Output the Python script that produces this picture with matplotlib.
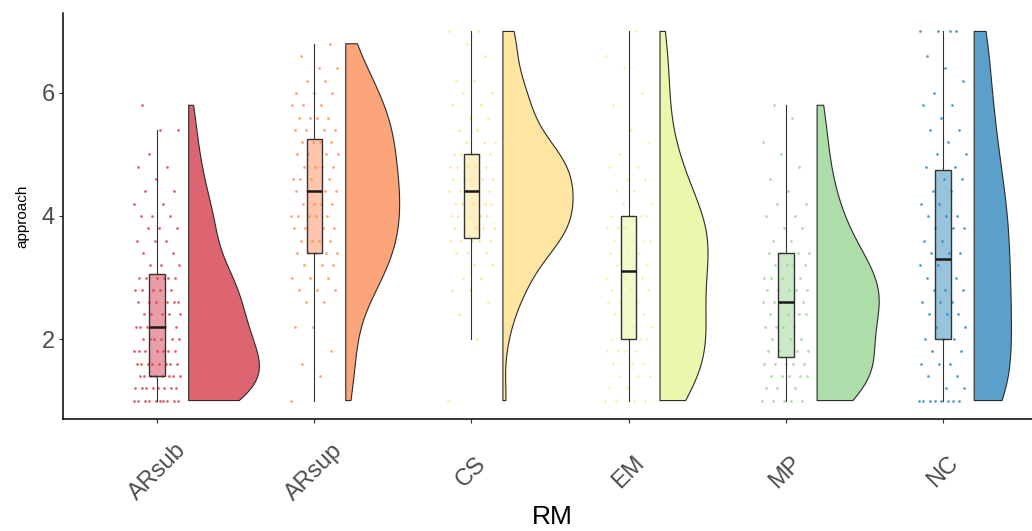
import numpy as np
import matplotlib
matplotlib.use("Agg")
import matplotlib.pyplot as plt

plt.rcParams['font.family'] = ['Liberation Sans', 'DejaVu Sans']

groups = ['ARsub', 'ARsup', 'CS', 'EM', 'MP', 'NC']
colors = ['#D53E4F', '#FC8D59', '#FEE08B', '#E6F598', '#99D594', '#3288BD']

# approach scores (value grid) and how many respondents gave each, per group
arsub_vals = [1.0, 1.2, 1.4, 1.6, 1.8, 2.0, 2.2, 2.4, 2.6, 2.8, 3.0, 3.2, 3.4, 3.6,
              3.8, 4.0, 4.2, 4.4, 4.6, 4.8, 5.0, 5.4, 5.8]
arsub_counts = [10, 8, 8, 8, 7, 6, 6, 5, 6, 5, 6, 3, 2, 3, 3, 3, 2, 2, 1, 2, 1, 2, 1]

arsup_vals = [1.0, 1.4, 1.6, 1.8, 2.2, 2.6, 2.8, 3.0, 3.2, 3.4, 3.6, 3.8, 4.0, 4.2,
              4.4, 4.6, 4.8, 5.0, 5.2, 5.4, 5.6, 5.8, 6.0, 6.2, 6.4, 6.6, 6.8]
arsup_counts = [1, 1, 1, 1, 2, 2, 3, 3, 3, 5, 4, 4, 5, 4, 5, 4, 4, 4, 4, 4, 4, 3, 3, 2, 2, 1, 1]

cs_vals = [1.0, 2.0, 2.4, 2.6, 2.8, 3.0, 3.2, 3.4, 3.6, 3.8, 4.0, 4.2, 4.4, 4.6,
           4.8, 5.0, 5.2, 5.4, 5.6, 5.8, 6.0, 6.2, 6.6, 6.8, 7.0]
cs_counts = [1, 1, 1, 1, 2, 2, 2, 3, 5, 5, 5, 5, 5, 5, 5, 5, 3, 2, 2, 2, 2, 2, 1, 1, 2]

em_vals = [1.0, 1.2, 1.4, 1.6, 1.8, 2.0, 2.2, 2.4, 2.6, 2.8, 3.0, 3.2, 3.4, 3.6,
           3.8, 4.0, 4.2, 4.4, 4.6, 4.8, 5.0, 5.2, 5.4, 5.8, 6.0, 6.4, 6.6, 7.0]
em_counts = [4, 2, 3, 3, 4, 4, 3, 3, 3, 3, 3, 3, 4, 4, 4, 4, 2, 2, 2, 2, 1, 1, 1, 1, 1, 1, 1, 1]

mp_vals = [1.0, 1.2, 1.4, 1.6, 1.8, 2.0, 2.2, 2.4, 2.6, 2.8, 3.0, 3.2, 3.4, 3.6,
           3.8, 4.0, 4.2, 4.4, 4.6, 4.8, 5.0, 5.2, 5.6, 5.8]
mp_counts = [5, 3, 5, 5, 4, 3, 4, 4, 6, 5, 4, 4, 4, 2, 2, 2, 2, 1, 1, 1, 1, 1, 1, 1]

nc_vals = [1.0, 1.2, 1.4, 1.6, 1.8, 2.0, 2.2, 2.4, 2.6, 2.8, 3.0, 3.2, 3.4, 3.6,
           3.8, 4.0, 4.2, 4.4, 4.6, 4.8, 5.0, 5.2, 5.4, 5.6, 5.8, 6.0, 6.2, 6.4, 6.6, 7.0]
nc_counts = [8, 2, 2, 3, 2, 3, 2, 3, 3, 3, 2, 2, 3, 2, 3, 3, 2, 2, 2, 2, 2, 1, 2, 1, 2,
             1, 1, 1, 1, 4]

all_vals = [arsub_vals, arsup_vals, cs_vals, em_vals, mp_vals, nc_vals]
all_counts = [arsub_counts, arsup_counts, cs_counts, em_counts, mp_counts, nc_counts]
data = [np.repeat(v, c) for v, c in zip(all_vals, all_counts)]


def kde_trimmed(y, npts=512):
    # gaussian kde with R's bw.nrd0, evaluated over the data range (trim=TRUE)
    n = len(y)
    sd = np.std(y, ddof=1)
    iqr = np.subtract(*np.percentile(y, [75, 25]))
    bw = 0.9 * min(sd, iqr / 1.34) * n ** -0.2
    grid = np.linspace(y.min(), y.max(), npts)
    dens = np.exp(-0.5 * ((grid[:, None] - y[None, :]) / bw) ** 2).sum(axis=1)
    dens /= n * bw * np.sqrt(2 * np.pi)
    return grid, dens


fig = plt.figure(figsize=(10.32, 5.31), dpi=100)
ax = fig.add_axes([63 / 1032, 112 / 531, 969 / 1032, 406 / 531])

positions = np.arange(1, len(groups) + 1)
kdes = [kde_trimmed(d) for d in data]
gmax = max(d.max() for _, d in kdes)

# flat violins, nudged right of the box
for pos, (grid, dens), col in zip(positions, kdes, colors):
    x0 = pos + 0.2
    ax.fill_betweenx(grid, x0, x0 + 0.45 * dens / gmax, facecolor=col, alpha=0.8,
                     edgecolor='none', zorder=2)
    ax.fill_betweenx(grid, x0, x0 + 0.45 * dens / gmax, facecolor='none',
                     edgecolor='#2b2b2b', linewidth=0.8, zorder=3)

# jittered raw points
for pos, d, col in zip(positions, data, colors):
    jit = (np.modf(np.arange(len(d)) * 0.6180339887)[0] - 0.5) * 0.3
    ax.scatter(pos + jit, d, s=4, color=col, alpha=0.8, linewidths=0, zorder=2)

bp = ax.boxplot(data, positions=positions, widths=0.1, patch_artist=True,
                showfliers=False, showcaps=False, whis=1.5, manage_ticks=False,
                zorder=4)
for patch, col in zip(bp['boxes'], colors):
    patch.set_facecolor(matplotlib.colors.to_rgba(col, 0.5))
    patch.set_edgecolor('#333333')
    patch.set_linewidth(1.0)
for w in bp['whiskers']:
    w.set_color('#333333')
    w.set_linewidth(0.8)
for m in bp['medians']:
    m.set_color('#1a1a1a')
    m.set_linewidth(1.8)

ax.set_xlim(0.4, 6.568)
ax.set_ylim(0.7, 7.3)
ax.set_yticks([2, 4, 6])
ax.set_xticks(positions)
ax.set_xticklabels(groups, rotation=45, ha='center', va='center',
                   rotation_mode='anchor')
ax.tick_params(axis='x', pad=35, length=3, width=0.8, color='#333333',
               labelsize=17, labelcolor='#4D4D4D')
ax.tick_params(axis='y', pad=3, length=3, width=0.8, color='#333333',
               labelsize=17, labelcolor='#4D4D4D')

for side in ['top', 'right']:
    ax.spines[side].set_visible(False)
for side in ['left', 'bottom']:
    ax.spines[side].set_linewidth(1.1)
    ax.spines[side].set_color('black')

ax.set_xlabel('RM', fontsize=19, va='center')
ax.xaxis.set_label_coords(0.505, -0.241)
ax.set_ylabel('approach', fontsize=11, labelpad=9)

fig.savefig('out.png', dpi=100)
